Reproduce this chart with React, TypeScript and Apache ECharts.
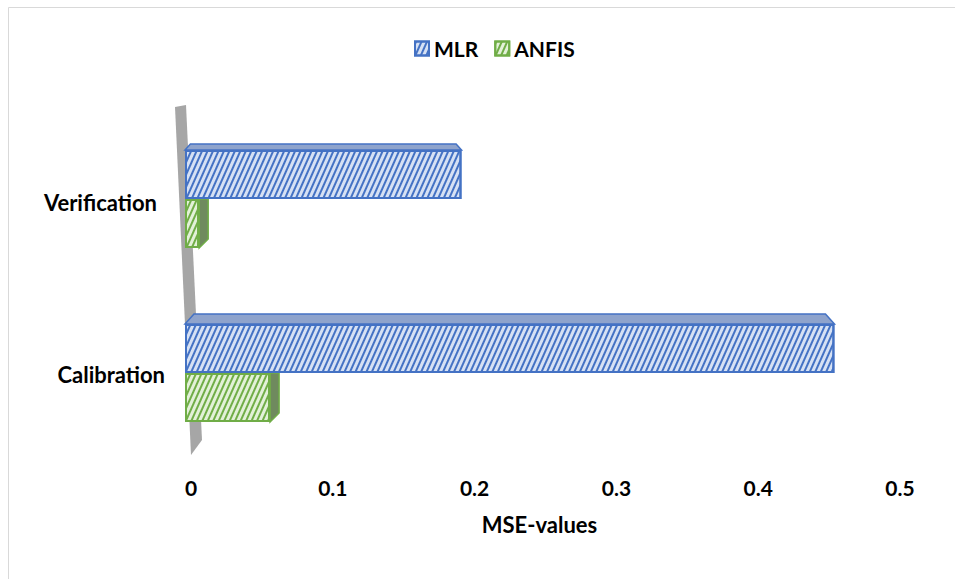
import React, { useEffect, useRef } from "react";
import * as echarts from "echarts";

// MSE of the two models on each data split
const categories = ["Calibration", "Verification"];
const seriesNames = ["MLR", "ANFIS"];
const mlrValues = [0.458, 0.195];
const anfisValues = [0.06, 0.01];
const xTicks = [0, 0.1, 0.2, 0.3, 0.4, 0.5];

const FONT = "Lato, 'Liberation Sans', sans-serif";
const BAR_W = 49;

const MLR_FILL = "#d6e1f4";
const MLR_LINE = "#4472c4";
const MLR_TOP = "#8ea3cc";
const ANFIS_FILL = "#e3f1d8";
const ANFIS_LINE = "#70ad47";
const ANFIS_SIDE = "#6f8a5e";

const hatch = (color: string) => ({
  symbol: "rect",
  symbolSize: 1,
  dashArrayX: [1, 0],
  dashArrayY: [1.1, 2.5],
  rotation: (-66 * Math.PI) / 180,
  color,
});

export default function App() {
  const ref = useRef<HTMLDivElement>(null);

  useEffect(() => {
    if (!ref.current) return;
    const chart = echarts.init(ref.current, null, { renderer: "svg" });

    // top faces of the MLR boxes and right faces of the ANFIS boxes
    const faceData = categories.map((_, i) => [mlrValues[i], anfisValues[i], i]);
    const depth = [10, 6];

    const renderFaces = (params: any, api: any) => {
      const mlr = api.value(0);
      const anfis = api.value(1);
      const ci = api.value(2);
      const c0 = api.coord([0, ci]);
      const cm = api.coord([mlr, ci]);
      const ca = api.coord([anfis, ci]);
      const mid = c0[1];
      const d = depth[ci];
      const mTop = mid - BAR_W;
      const aBot = mid + BAR_W;
      return {
        type: "group",
        children: [
          {
            type: "polygon",
            shape: {
              points: [
                [c0[0], mTop],
                [cm[0], mTop],
                [cm[0] - d * 0.9, mTop - d],
                [c0[0] + d * 0.9, mTop - d],
              ],
            },
            style: { fill: MLR_TOP, stroke: MLR_LINE, lineWidth: 1.5 },
          },
          {
            type: "polygon",
            shape: {
              points: [
                [ca[0], mid],
                [ca[0] + 9, mid],
                [ca[0] + 9, aBot - 9],
                [ca[0], aBot],
              ],
            },
            style: { fill: ANFIS_SIDE, stroke: ANFIS_LINE, lineWidth: 1.5 },
          },
        ],
      };
    };

    // slanted grey wall at the zero line
    const renderWall = (params: any, api: any) => {
      const cs = params.coordSys;
      const x0 = api.coord([0, 0])[0];
      const top = cs.y - 5;
      const bot = cs.y + cs.height - 5;
      return {
        type: "polygon",
        shape: {
          points: [
            [x0 - 10, top],
            [x0 + 1, top - 2],
            [x0 + 17, bot - 15],
            [x0 + 6, bot],
          ],
        },
        style: { fill: "#a6a6a6" },
      };
    };

    const labelStyle = { fontFamily: FONT, fontWeight: "bold", color: "#000" };

    chart.setOption({
      animation: false,
      backgroundColor: "#ffffff",
      textStyle: { fontFamily: FONT },
      graphic: [
        {
          type: "rect",
          shape: { x: 8.5, y: 7.5, width: 1200, height: 1200 },
          style: { fill: "none", stroke: "#d9d9d9", lineWidth: 1 },
          silent: true,
        },
      ],
      legend: {
        data: seriesNames,
        left: 409,
        top: 33,
        icon: "rect",
        itemWidth: 14,
        itemHeight: 14,
        itemGap: 16,
        textStyle: { ...labelStyle, fontSize: 21 },
      },
      grid: { left: 185, width: 709, top: 112, height: 348, containLabel: false },
      xAxis: {
        type: "value",
        min: xTicks[0],
        max: xTicks[xTicks.length - 1],
        interval: 0.1,
        name: "MSE-values",
        nameLocation: "middle",
        nameGap: 53,
        nameTextStyle: { ...labelStyle, fontSize: 22 },
        axisLine: { show: false },
        axisTick: { show: false },
        splitLine: { show: false },
        axisLabel: {
          ...labelStyle,
          fontSize: 21,
          margin: 17,
          padding: [0, 0, 0, 12],
          formatter: (v: number) => (v === 0 ? "0" : String(Math.round(v * 10) / 10)),
        },
      },
      yAxis: {
        type: "category",
        data: categories,
        axisLine: { show: false },
        axisTick: { show: false },
        axisLabel: {
          margin: 20,
          formatter: (v: string) => (v === "Verification" ? `{v|${v}}` : `{c|${v}}`),
          rich: {
            v: { ...labelStyle, fontSize: 22, padding: [6, 8, 0, 0] },
            c: { ...labelStyle, fontSize: 22, padding: [3, 0, 0, 0] },
          },
        },
      },
      series: [
        {
          type: "custom",
          name: "wall",
          renderItem: renderWall,
          data: [[0, 0]],
          z: 1,
          silent: true,
          encode: { x: 0, y: 1 },
        },
        {
          name: "MLR",
          type: "bar",
          data: mlrValues,
          barWidth: BAR_W,
          barGap: "0%",
          z: 3,
          itemStyle: {
            color: MLR_FILL,
            borderColor: MLR_LINE,
            borderWidth: 2,
            decal: hatch(MLR_LINE),
          },
        },
        {
          name: "ANFIS",
          type: "bar",
          data: anfisValues,
          barWidth: BAR_W,
          barGap: "0%",
          z: 3,
          itemStyle: {
            color: ANFIS_FILL,
            borderColor: ANFIS_LINE,
            borderWidth: 2,
            decal: hatch(ANFIS_LINE),
          },
        },
        {
          type: "custom",
          name: "faces",
          renderItem: renderFaces,
          data: faceData,
          z: 2,
          silent: true,
          encode: { x: 0, y: 2 },
        },
      ],
    });

    return () => chart.dispose();
  }, []);

  return (
    <div
      ref={ref}
      style={{ position: "absolute", left: 0, top: 0, width: 955, height: 579 }}
    />
  );
}
